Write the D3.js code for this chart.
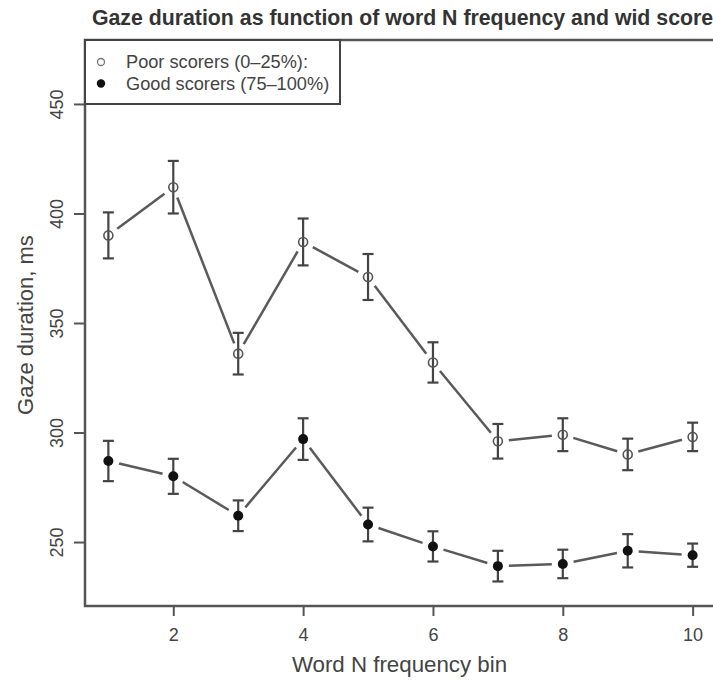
<!DOCTYPE html>
<html>
<head>
<meta charset="utf-8">
<script src="https://cdn.jsdelivr.net/npm/d3@7"></script>
<style>
  body { margin: 0; background: #fff; }
  svg { display: block; }
  text { font-family: "Liberation Sans", Arial, Helvetica, sans-serif; fill: #444; }
</style>
</head>
<body>
<div id="chart"></div>
<script>
// data
const bins = [1, 2, 3, 4, 5, 6, 7, 8, 9, 10];
const poorMean = [390, 412, 336, 387, 371, 332, 296, 299, 290, 298];
const poorErr = [10.5, 12, 9.5, 10.7, 10.5, 9.2, 7.9, 7.5, 7.2, 6.5];
const goodMean = [287, 280, 262, 297, 258, 248, 239, 240, 246, 244];
const goodErr = [9.2, 8, 7, 9.5, 7.7, 6.9, 7, 6.5, 7.6, 5.3];
const yTicks = [250, 300, 350, 400, 450];
const xTicks = [2, 4, 6, 8, 10];
const legendLabels = ["Poor scorers (0\u201325%):", "Good scorers (75\u2013100%)"];

const width = 713;
const height = 681;
const plot = { left: 85, top: 40, right: 716, bottom: 606 };

const svg = d3.select("#chart").append("svg")
  .attr("width", width)
  .attr("height", height);

// R style: data range padded by 4% on each side
const x = d3.scaleLinear().domain([0.64, 10.36]).range([plot.left, plot.right]);
const y = d3.scaleLinear().domain([220.8, 479.2]).range([plot.bottom, plot.top]);

const series = [
  { name: "poor", mean: poorMean, err: poorErr },
  { name: "good", mean: goodMean, err: goodErr },
].map((s) => ({
  name: s.name,
  points: bins.map((b, i) => ({ bin: b, v: s.mean[i], e: s.err[i] })),
}));

// title
svg.append("text")
  .attr("x", (plot.left + plot.right) / 2 + 2)
  .attr("y", 25)
  .attr("text-anchor", "middle")
  .style("font-weight", "bold")
  .style("font-size", "21.3px")
  .style("fill", "#333")
  .text("Gaze duration as function of word N frequency and wid score");

// axes
const yAxis = svg.append("g")
  .attr("transform", `translate(${plot.left},0)`)
  .call(d3.axisLeft(y).tickValues(yTicks).tickSize(11));
yAxis.select(".domain").remove();
yAxis.selectAll("line").attr("stroke", "#555").attr("stroke-width", 2);
yAxis.selectAll("text")
  .attr("x", null).attr("dy", null)
  .attr("transform", "translate(-22,0) rotate(-90)")
  .attr("text-anchor", "middle")
  .style("font-size", "18px")
  .style("font-family", "Liberation Sans, Arial, sans-serif")
  .attr("fill", "#444");

const xAxis = svg.append("g")
  .attr("transform", `translate(0,${plot.bottom})`)
  .call(d3.axisBottom(x).tickValues(xTicks).tickSize(10).tickPadding(12));
xAxis.select(".domain").remove();
xAxis.selectAll("line").attr("stroke", "#555").attr("stroke-width", 2);
xAxis.selectAll("text")
  .style("font-size", "18px")
  .style("font-family", "Liberation Sans, Arial, sans-serif")
  .attr("fill", "#444");

// frame
svg.append("rect")
  .attr("x", plot.left).attr("y", plot.top)
  .attr("width", plot.right - plot.left)
  .attr("height", plot.bottom - plot.top)
  .attr("fill", "none")
  .attr("stroke", "#555")
  .attr("stroke-width", 2.5);

// axis titles
svg.append("text")
  .attr("x", (plot.left + plot.right) / 2 - 1)
  .attr("y", 672)
  .attr("text-anchor", "middle")
  .style("font-size", "22.3px")
  .text("Word N frequency bin");

svg.append("text")
  .attr("transform", `translate(33,${(plot.top + plot.bottom) / 2 + 2}) rotate(-90)`)
  .attr("text-anchor", "middle")
  .style("font-size", "22px")
  .text("Gaze duration, ms");

// lines with gaps around points (type = "b")
const gap = 11;
series.forEach((s) => {
  const pts = s.points;
  for (let i = 0; i < pts.length - 1; i++) {
    const x1 = x(pts[i].bin), y1 = y(pts[i].v);
    const x2 = x(pts[i + 1].bin), y2 = y(pts[i + 1].v);
    const len = Math.hypot(x2 - x1, y2 - y1);
    const ux = (x2 - x1) / len, uy = (y2 - y1) / len;
    svg.append("line")
      .attr("x1", x1 + ux * gap).attr("y1", y1 + uy * gap)
      .attr("x2", x2 - ux * gap).attr("y2", y2 - uy * gap)
      .attr("stroke", "#5a5a5a")
      .attr("stroke-width", 2.5);
  }
});

// error bars
const capW = 5.5;
series.forEach((s) => {
  const g = svg.append("g").attr("class", "err-" + s.name)
    .attr("stroke", "#444").attr("stroke-width", 2.2);
  g.selectAll(".stem").data(s.points).enter().append("line")
    .attr("x1", (d) => x(d.bin)).attr("x2", (d) => x(d.bin))
    .attr("y1", (d) => y(d.v + d.e)).attr("y2", (d) => y(d.v - d.e));
  g.selectAll(".capTop").data(s.points).enter().append("line")
    .attr("x1", (d) => x(d.bin) - capW).attr("x2", (d) => x(d.bin) + capW)
    .attr("y1", (d) => y(d.v + d.e)).attr("y2", (d) => y(d.v + d.e));
  g.selectAll(".capBot").data(s.points).enter().append("line")
    .attr("x1", (d) => x(d.bin) - capW).attr("x2", (d) => x(d.bin) + capW)
    .attr("y1", (d) => y(d.v - d.e)).attr("y2", (d) => y(d.v - d.e));
});

// points
svg.selectAll(".poor").data(series[0].points).enter().append("circle")
  .attr("cx", (d) => x(d.bin)).attr("cy", (d) => y(d.v))
  .attr("r", 4.5)
  .attr("fill", "none")
  .attr("stroke", "#555")
  .attr("stroke-width", 1.6);

svg.selectAll(".good").data(series[1].points).enter().append("circle")
  .attr("cx", (d) => x(d.bin)).attr("cy", (d) => y(d.v))
  .attr("r", 5)
  .attr("fill", "#111");

// legend
const legend = svg.append("g");
legend.append("rect")
  .attr("x", plot.left).attr("y", plot.top)
  .attr("width", 255).attr("height", 64)
  .attr("fill", "#fff")
  .attr("stroke", "#444")
  .attr("stroke-width", 2);

const items = legend.selectAll(".item").data(legendLabels).enter().append("g")
  .attr("transform", (d, i) => `translate(${plot.left + 16},${plot.top + 22 + i * 21.5})`);
items.append("circle")
  .attr("r", (d, i) => (i === 0 ? 3.5 : 4.2))
  .attr("fill", (d, i) => (i === 0 ? "none" : "#111"))
  .attr("stroke", (d, i) => (i === 0 ? "#777" : "none"))
  .attr("stroke-width", 1.3);
items.append("text")
  .attr("x", 25)
  .attr("y", 6)
  .style("font-size", "18.2px")
  .text((d) => d);
</script>
</body>
</html>
